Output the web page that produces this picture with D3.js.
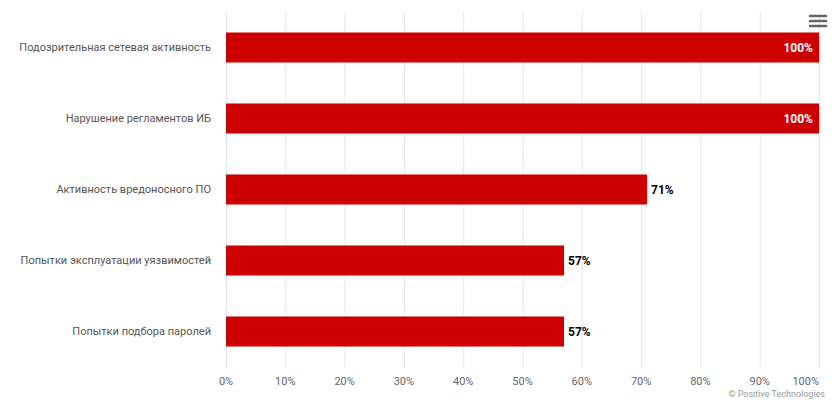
<!DOCTYPE html>
<html><head><meta charset="utf-8">
<script src="https://cdn.jsdelivr.net/npm/d3@7/dist/d3.min.js"></script>
<style>body{margin:0;background:#fff;font-family:Roboto,"Noto Sans",sans-serif;}</style>
</head><body><svg id="c" width="837" height="406"></svg>
<script>
const categories = ["Подозрительная сетевая активность","Нарушение регламентов ИБ","Активность вредоносного ПО","Попытки эксплуатации уязвимостей","Попытки подбора паролей"];
const values = [100,100,71,57,57];
const ticks = [0,10,20,30,40,50,60,70,80,90,100];

const svg = d3.select("#c");
const L=226, R=819, T=12, B=367;
const x = d3.scaleLinear().domain([0,100]).range([L,R]);
const y = d3.scaleBand().domain(categories).range([T,B]).paddingInner(0.577).paddingOuter(0.2885);

// grid
svg.append("g").selectAll("line").data(ticks).join("line")
  .attr("x1",d=>x(d)+0.5).attr("x2",d=>x(d)+0.5).attr("y1",T).attr("y2",B)
  .attr("stroke","#e6e6e6").attr("stroke-width",1);

// bars
svg.append("g").selectAll("rect").data(values).join("rect")
  .attr("x",x(0)).attr("y",(d,i)=>y(categories[i]))
  .attr("width",d=>x(d)-x(0)).attr("height",y.bandwidth())
  .attr("fill","#cc0000");

// data labels
svg.append("g").selectAll("text").data(values).join("text")
  .attr("x",d=> d>=95 ? x(d)-6 : x(d)+4)
  .attr("y",(d,i)=>y(categories[i])+y.bandwidth()/2)
  .attr("dy","0.35em")
  .attr("text-anchor",d=> d>=95 ? "end":"start")
  .attr("font-size","12px").attr("font-weight","bold")
  .attr("fill",d=> d>=95 ? "#fff":"#000")
  .text(d=>d+"%");

// category labels
svg.append("g").selectAll("text").data(categories).join("text")
  .attr("x",211).attr("y",d=>y(d)+y.bandwidth()/2).attr("dy","0.35em")
  .attr("text-anchor","end").attr("font-size","11px").attr("fill","#555")
  .text(d=>d);

// x axis labels
svg.append("g").selectAll("text").data(ticks).join("text")
  .attr("x",d=> d===100 ? x(d) : x(d)).attr("y",385)
  .attr("text-anchor",d=> d===100 ? "end" : "middle")
  .attr("font-size","11px").attr("fill","#666").text(d=>d+"%");

// credits
svg.append("text").attr("x",825).attr("y",397).attr("text-anchor","end")
  .attr("font-size","9px").attr("fill","#999").text("© Positive Technologies");

// menu icon
svg.append("g").selectAll("line").data([0,1,2]).join("line")
  .attr("x1",810).attr("x2",826).attr("y1",d=>16+d*5).attr("y2",d=>16+d*5)
  .attr("stroke","#666").attr("stroke-width",2.5).attr("stroke-linecap","round");
</script></body></html>
